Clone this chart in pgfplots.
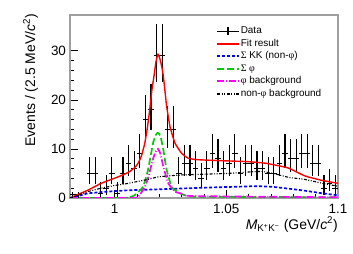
\documentclass[border=0pt]{standalone}
\usepackage{fontspec}
\setmainfont{Liberation Sans}
\newfontfamily\symf{Liberation Serif}
\usepackage{pgfplots}
\usepackage{pgfplotstable}
\pgfplotsset{compat=1.18}

\pgfplotstableread{
x y ep em
0.98125 0.7 0.6 0.6
0.98375 0.7 0.6 0.6
0.98875 5 3.382 2.160
0.99125 5 3.382 2.160
0.99375 1 2.300 0.827
0.99625 2 2.638 1.292
0.99875 5 3.382 2.160
1.00125 1 2.300 0.827
1.00375 5 3.382 2.160
1.00625 7 3.770 2.581
1.00875 6 3.584 2.380
1.01125 9 4.110 2.943
1.01375 16 5.03 3.97
1.01625 18 5.27 4.21
1.01875 29 6.47 5.36
1.02125 29 6.47 5.36
1.02375 14 4.84 3.71
1.02625 14 4.84 3.71
1.02875 5 3.382 2.160
1.03125 7 3.770 2.581
1.03375 7 3.770 2.581
1.03625 6 3.584 2.380
1.03875 4 3.163 1.914
1.04125 6 3.584 2.380
1.04375 9 4.110 2.943
1.04625 8 3.945 2.768
1.04875 6 3.584 2.380
1.05125 7 3.770 2.581
1.05375 9 4.110 2.943
1.05625 5 3.382 2.160
1.05875 7 3.770 2.581
1.06125 7 3.770 2.581
1.06375 6 3.584 2.380
1.06625 6 3.584 2.380
1.06875 5 3.382 2.160
1.07125 5 3.382 2.160
1.07375 7 3.770 2.581
1.07625 9 4.110 2.943
1.07875 8 3.945 2.768
1.08125 8 3.945 2.768
1.08375 9 4.110 2.943
1.08625 9 4.110 2.943
1.08875 7 3.770 2.581
1.09125 7 3.770 2.581
1.09375 2 2.638 1.292
1.09625 3 2.918 1.633
1.09875 2 2.638 1.292
}\datatab

\pgfplotstableread{
x y
0.9800 0.0
0.9820 0.4
0.9850 1.0
0.9880 1.6
0.9910 2.3
0.9940 3.0
0.9980 3.7
1.0015 4.3
1.0060 5.2
1.0090 6.2
1.0105 7.1
1.0120 8.6
1.0135 11.2
1.0147 14.5
1.0157 18.0
1.0168 22.5
1.0176 24.8
1.0185 27.8
1.0194 29.3
1.0203 28.3
1.0212 26.5
1.0218 24.8
1.0226 21.5
1.0233 18.6
1.0248 14.5
1.0270 11.2
1.0300 9.1
1.0330 8.1
1.0375 7.8
1.0480 7.6
1.0600 7.4
1.0673 7.1
1.0720 6.7
1.0778 6.1
1.0852 4.5
1.0927 3.6
1.1000 3.0
}\fittab

\pgfplotstableread{
x y
0.9800 0.0
0.9830 0.3
0.9860 0.7
0.9880 0.95
0.9940 1.2
1.0000 1.4
1.0050 1.55
1.0150 1.7
1.0250 1.85
1.0400 2.1
1.0550 2.3
1.0630 2.4
1.0700 2.3
1.0780 1.9
1.0850 1.5
1.0930 0.95
1.1000 0.55
}\kktab

\pgfplotstableread{
x y
0.9800 0.0
1.0040 0.0
1.0060 0.05
1.0090 0.6
1.0127 2.3
1.0149 5.7
1.0172 11.2
1.0185 12.9
1.0194 13.3
1.0205 12.6
1.0218 9.8
1.0233 5.7
1.0255 2.3
1.0285 1.1
1.0330 0.35
1.0400 0.25
1.1000 0.15
}\phitab

\pgfplotstableread{
x y
0.9800 0.0
1.0080 0.0
1.0110 0.5
1.0135 2.3
1.0149 4.0
1.0172 8.0
1.0185 9.6
1.0194 10.0
1.0205 9.0
1.0218 6.4
1.0240 3.0
1.0270 1.3
1.0300 0.9
1.0350 0.4
1.1000 0.15
}\phibkgtab

\pgfplotstableread{
x y
0.9800 0.0
0.9820 0.3
0.9880 1.3
0.9940 2.0
1.0000 2.55
1.0050 2.9
1.0150 3.8
1.0195 4.3
1.0300 4.7
1.0500 5.0
1.0600 5.3
1.0660 5.4
1.0720 4.9
1.0780 4.2
1.0850 3.8
1.0930 3.0
1.1000 2.4
}\nonphitab

\definecolor{fitred}{RGB}{255,0,0}
\definecolor{kkblue}{RGB}{0,0,255}
\definecolor{phigreen}{RGB}{0,204,0}
\definecolor{phimag}{RGB}{255,0,255}
\tikzset{
  fitsty/.style={draw=fitred, line width=1.4pt},
  kksty/.style={draw=kkblue, line width=1.7pt, dash pattern=on 3bp off 2bp},
  phisty/.style={draw=phigreen, line width=1.7pt, dash pattern=on 7bp off 3bp},
  phibsty/.style={draw=phimag, line width=1.7pt, dash pattern=on 7bp off 2bp on 1bp off 2bp},
  nonphisty/.style={draw=black, line width=1.1pt, dash pattern=on 3bp off 1.5bp on 1bp off 1.5bp on 1bp off 1.5bp},
}

\begin{document}
\begin{tikzpicture}
\path[use as bounding box] (-70bp,-56bp) rectangle (283bp,198bp);
\begin{axis}[
  name=ax,
  at={(0,0)}, anchor=south west,
  width=268bp, height=183bp, scale only axis,
  xmin=0.98, xmax=1.1, ymin=0, ymax=37.3,
  xtick={1,1.05,1.1}, xticklabels={1,1.05,1.1},
  ytick={0,10,20,30},
  minor x tick num=4, minor y tick num=4,
  tick align=inside,
  xtick pos=left, ytick pos=left,
  major tick length=8bp, minor tick length=4bp,
  axis line style={gray!75, line width=1.1pt},
  tick style={black, line width=0.7pt},
  ticklabel style={font=\fontsize{13.5}{14}\selectfont},
  /pgf/number format/assume math mode=true,
  xticklabel style={yshift=-3bp},
  yticklabel style={xshift=-0.5bp},
  legend style={draw=none, fill=none, at={(axis description cs:0.545,0.943)}, anchor=north west,
    font=\fontsize{10}{11}\selectfont, inner sep=0pt, row sep=1bp,
    nodes={inner sep=1bp, text height=7bp, text depth=2.5bp}},
  legend cell align=left,
]
\addplot[draw=none, mark=none,
  legend image code/.code={\draw[black, line width=1.2pt] (0bp,0bp) -- (21.5bp,0bp); \draw[black, line width=1.2pt] (10.75bp,-4bp) -- (10.75bp,4bp);},
  error bars/.cd, y dir=both, y explicit, x dir=both, x fixed=0.00125, error mark=none,
  error bar style={draw=black, line width=1.1pt}]
  table[x=x, y=y, y error plus=ep, y error minus=em] {\datatab};
\addlegendentry{Data}
\addplot[fitsty, smooth, tension=0.3,
  legend image code/.code={\draw[fitsty, line width=2bp] (0bp,0bp) -- (21.5bp,0bp);}] table[x=x,y=y] {\fittab};
\addlegendentry{Fit result}
\addplot[kksty, smooth, tension=0.3,
  legend image code/.code={\draw[kksty, line width=2bp] (0bp,0bp) -- (21.5bp,0bp);}] table[x=x,y=y] {\kktab};
\addlegendentry{{\symf Σ} KK (non-{\symf φ})}
\addplot[phisty, smooth, tension=0.3,
  legend image code/.code={\draw[phisty, line width=2bp] (0bp,0bp) -- (21.5bp,0bp);}] table[x=x,y=y] {\phitab};
\addlegendentry{{\symf Σ φ}}
\addplot[phibsty, smooth, tension=0.3,
  legend image code/.code={\draw[phibsty, line width=2bp] (0bp,0bp) -- (21.5bp,0bp);}] table[x=x,y=y] {\phibkgtab};
\addlegendentry{{\symf φ} background}
\addplot[nonphisty, smooth, tension=0.3,
  legend image code/.code={\draw[nonphisty, line width=1.5bp] (0bp,0bp) -- (21.5bp,0bp);}] table[x=x,y=y] {\nonphitab};
\addlegendentry{non-{\symf φ} background}
\end{axis}
\node[rotate=90, anchor=base east, inner sep=0pt, font=\fontsize{14}{16}\selectfont] at (-35bp,184bp) {Events / (2.5 MeV/\textit{c}\textsuperscript{2})};
\node[anchor=base east, inner sep=0pt, font=\fontsize{14}{16}\selectfont] at (268bp,-31bp) {\textit{M}\textsubscript{K\textsuperscript{+}K\textsuperscript{−}} (GeV/\textit{c}\textsuperscript{2})};
\end{tikzpicture}
\end{document}
